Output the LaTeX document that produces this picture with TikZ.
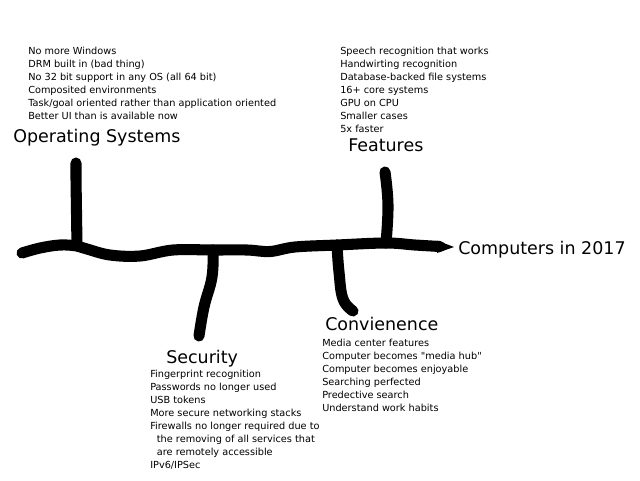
\documentclass[tikz,border=0pt]{standalone}
\usepackage{fontspec}
\setmainfont{DejaVu Sans}[Ligatures=TeXOff]
\begin{document}
\begin{tikzpicture}[x=0.75pt,y=-0.75pt,
  pen/.style={line width=8.3pt,line cap=round,line join=round},
  itemtext/.style={font=\fontsize{7.3pt}{9.75pt}\selectfont,align=left,inner sep=0pt,anchor=north west},
  headtext/.style={font=\fontsize{13.1pt}{15pt}\selectfont,inner sep=0pt,anchor=base west}]
\useasboundingbox (0,0) rectangle (640,480);

% spine coordinates
\coordinate (s0) at (22,253);
\coordinate (osj) at (77,246);
\coordinate (secj) at (213,250);
\coordinate (conj) at (337,245);
\coordinate (featj) at (386,243);
\coordinate (send) at (440,246.5);
\coordinate (tip) at (454,247);

% branch ends
\coordinate (ostop) at (76,163);
\coordinate (feattop) at (385,172);
\coordinate (secbot) at (199,336);
\coordinate (conbot) at (353,311);

% spine
\draw[pen] plot[smooth,tension=0.6] coordinates {(s0) (40,248) (60,245) (osj) (87,249) (110,255) (140,256) (173,250) (secj) (247,250) (270,251.5) (295,247) (conj) (featj) (415,245) (send)};
\fill (437,240.5) -- (tip) -- (437,253) -- cycle;

% branches
\draw[pen] (ostop) -- (76,178) -- (osj);
\draw[pen] plot[smooth,tension=0.7] coordinates {(feattop) (388,205) (featj)};
\draw[pen] plot[smooth,tension=0.7] coordinates {(secj) (212,277) (204,307) (secbot)};
\draw[pen] plot[smooth,tension=0.7] coordinates {(conj) (339,272) (343,299) (conbot)};

% titles
\node[headtext] (ostitle) at (13,142) {Operating Systems};
\node[headtext] (feattitle) at (348,151) {Features};
\node[headtext] (main) at (458,254) {Computers in 2017};
\node[headtext] (sectitle) at (166,363) {Security};
\node[headtext] (contitle) at (325,330) {Convienence};

% item lists
\node[itemtext] (ositems) at (28,46.6) {No more Windows\\DRM built in (bad thing)\\No 32 bit support in any OS (all 64 bit)\\Composited environments\\Task/goal oriented rather than application oriented\\Better UI than is available now};
\node[itemtext] (featitems) at (340,46.6) {Speech recognition that works\\Handwirting recognition\\Database-backed file systems\\16+ core systems\\GPU on CPU\\Smaller cases\\5x faster};
\node[itemtext] (secitems) at (150,369.6) {Fingerprint recognition\\Passwords no longer used\\USB tokens\\More secure networking stacks\\Firewalls no longer required due to\\\hspace*{5pt}the removing of all services that\\\hspace*{5pt}are remotely accessible\\IPv6/IPSec};
\node[itemtext] (conitems) at (322,338.6) {Media center features\\Computer becomes "media hub"\\Computer becomes enjoyable\\Searching perfected\\Predective search\\Understand work habits};
\end{tikzpicture}
\end{document}
